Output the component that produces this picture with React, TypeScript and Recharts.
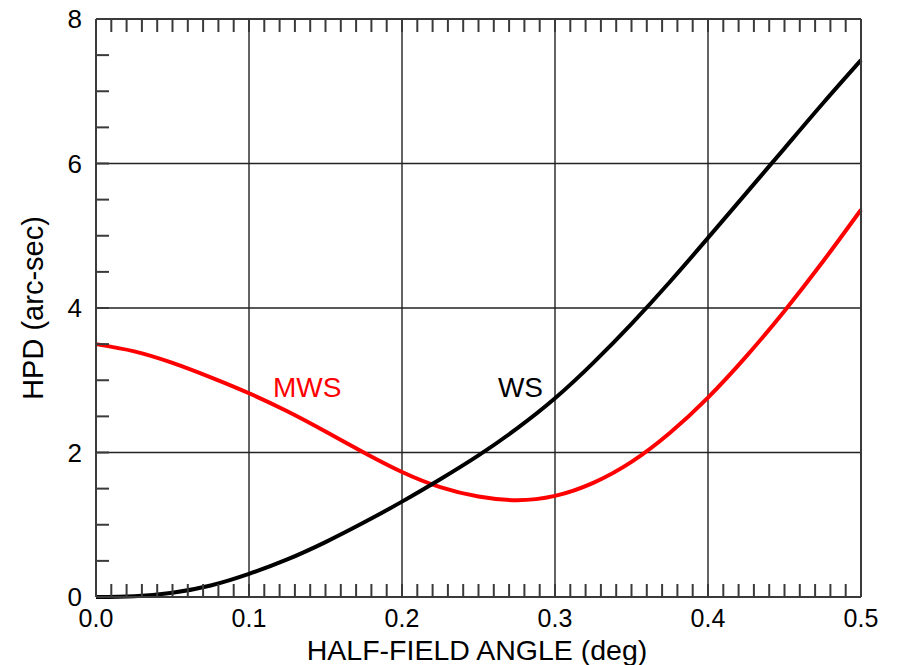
import { LineChart, Line, XAxis, YAxis, ReferenceLine, ReferenceDot } from 'recharts';

// half-field angle (deg)
const angles = [0, 0.025, 0.05, 0.075, 0.1, 0.125, 0.15, 0.175, 0.2, 0.225, 0.25, 0.275, 0.3, 0.325, 0.35, 0.375, 0.4, 0.425, 0.45, 0.475, 0.5];
// HPD (arc-sec)
const wsHpd = [0, 0.01, 0.06, 0.16, 0.32, 0.52, 0.76, 1.03, 1.32, 1.63, 1.96, 2.33, 2.75, 3.24, 3.78, 4.36, 4.97, 5.59, 6.21, 6.83, 7.43];
const mwsHpd = [3.5, 3.4, 3.24, 3.04, 2.82, 2.57, 2.29, 2.0, 1.73, 1.52, 1.39, 1.34, 1.4, 1.58, 1.87, 2.27, 2.76, 3.33, 3.96, 4.64, 5.36];

const xMajor = [0.1, 0.2, 0.3, 0.4];
const yMajor = [2, 4, 6];
const xMinorTicks = Array.from({ length: 51 }, (_, i) => i / 100);
const yMinorTicks = Array.from({ length: 17 }, (_, i) => i / 2);

const FONT = '"Liberation Sans", Arial, Helvetica, sans-serif';
const FRAME = '#3a3a3a';
const TICK_LEN = 13;

const data = angles.map((a, i) => ({ angle: a, ws: wsHpd[i], mws: mwsHpd[i] }));

const BottomTick = (props: any) => {
  const { x, y, payload } = props;
  const v = payload.value;
  const major = Math.round(v * 100) % 10 === 0;
  return (
    <g>
      <line x1={x} y1={y} x2={x} y2={y - TICK_LEN} stroke={FRAME} strokeWidth={2} />
      {major && (
        <text x={x} y={y + 30} textAnchor="middle" fontSize={25} fontFamily={FONT} fill="#000">
          {v.toFixed(1)}
        </text>
      )}
    </g>
  );
};

const TopTick = (props: any) => {
  const { x, y } = props;
  return <line x1={x} y1={y} x2={x} y2={y + TICK_LEN} stroke={FRAME} strokeWidth={2} />;
};

const LeftTick = (props: any) => {
  const { x, y, payload } = props;
  const v = payload.value;
  const major = Number.isInteger(v) && v % 2 === 0;
  return (
    <g>
      <line x1={x} y1={y} x2={x + TICK_LEN} y2={y} stroke={FRAME} strokeWidth={2} />
      {major && (
        <text x={x - 14} y={y + 9} textAnchor="end" fontSize={26} fontFamily={FONT} fill="#000">
          {v}
        </text>
      )}
    </g>
  );
};

const RightTick = (props: any) => {
  const { x, y } = props;
  return <line x1={x} y1={y} x2={x - TICK_LEN} y2={y} stroke={FRAME} strokeWidth={2} />;
};

const curveLabel = (text: string, color: string) => (props: any) => {
  const vb = props.viewBox;
  return (
    <text x={vb.x} y={vb.y} fontSize={28} fontFamily={FONT} fill={color}>
      {text}
    </text>
  );
};

const App = () => {
  return (
    <div style={{ position: 'absolute', left: 0, top: 0, width: 897, height: 665, overflow: 'hidden', background: '#fff' }}>
      <LineChart width={897} height={665} data={data} margin={{ top: 18, right: 35, left: 0, bottom: 0 }}>
        <XAxis
          xAxisId="b"
          dataKey="angle"
          type="number"
          domain={[0, 0.5]}
          ticks={xMinorTicks}
          interval={0}
          tickSize={0}
          tickLine={false}
          tickMargin={0}
          height={68}
          axisLine={{ stroke: FRAME, strokeWidth: 2 }}
          tick={<BottomTick />}
          label={(p: any) => (
            <text x={477} y={660} textAnchor="middle" fontSize={28.5} fontFamily={FONT} fill="#000">
              HALF-FIELD ANGLE (deg)
            </text>
          )}
        />
        <XAxis
          xAxisId="t"
          orientation="top"
          dataKey="angle"
          type="number"
          domain={[0, 0.5]}
          ticks={xMinorTicks}
          interval={0}
          tickSize={0}
          tickLine={false}
          tickMargin={0}
          height={1}
          axisLine={{ stroke: FRAME, strokeWidth: 2 }}
          tick={<TopTick />}
        />
        <YAxis
          yAxisId="l"
          type="number"
          domain={[0, 8]}
          ticks={yMinorTicks}
          interval={0}
          tickSize={0}
          tickLine={false}
          tickMargin={0}
          width={96}
          axisLine={{ stroke: FRAME, strokeWidth: 2 }}
          tick={<LeftTick />}
          label={(p: any) => (
            <text
              x={43}
              y={308}
              transform="rotate(-90 43 308)"
              textAnchor="middle"
              fontSize={29}
              fontFamily={FONT}
              fill="#000"
            >
              HPD (arc-sec)
            </text>
          )}
        />
        <YAxis
          yAxisId="r"
          orientation="right"
          type="number"
          domain={[0, 8]}
          ticks={yMinorTicks}
          interval={0}
          tickSize={0}
          tickLine={false}
          tickMargin={0}
          width={1}
          axisLine={{ stroke: FRAME, strokeWidth: 2 }}
          tick={<RightTick />}
        />
        {xMajor.map((v) => (
          <ReferenceLine key={'x' + v} xAxisId="b" yAxisId="l" x={v} stroke="#222" strokeWidth={1.4} />
        ))}
        {yMajor.map((v) => (
          <ReferenceLine key={'y' + v} xAxisId="b" yAxisId="l" y={v} stroke="#222" strokeWidth={1.4} />
        ))}
        <Line
          xAxisId="b"
          yAxisId="l"
          type="natural"
          dataKey="mws"
          stroke="#ff0000"
          strokeWidth={4}
          dot={false}
          isAnimationActive={false}
        />
        <Line
          xAxisId="b"
          yAxisId="l"
          type="natural"
          dataKey="ws"
          stroke="#000000"
          strokeWidth={4}
          dot={false}
          isAnimationActive={false}
        />
        <ReferenceDot xAxisId="b" yAxisId="l" x={0.1157} y={2.77} r={0} fill="none" stroke="none" label={curveLabel('MWS', '#ff0000')} />
        <ReferenceDot xAxisId="b" yAxisId="l" x={0.2627} y={2.77} r={0} fill="none" stroke="none" label={curveLabel('WS', '#000000')} />
      </LineChart>
    </div>
  );
};

export default App;
